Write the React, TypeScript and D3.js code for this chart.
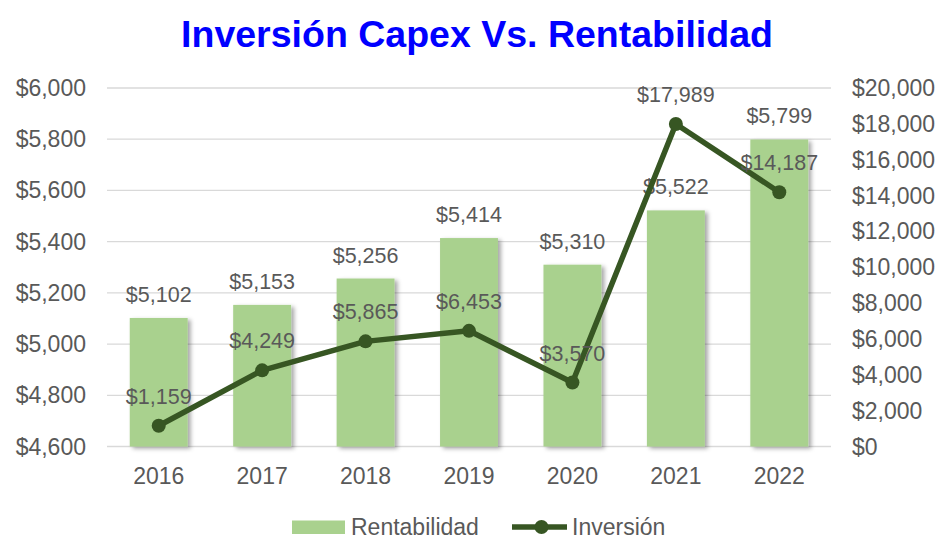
import React from "react";
import * as d3 from "d3";

const years = ["2016", "2017", "2018", "2019", "2020", "2021", "2022"];
const rentabilidad = [5102, 5153, 5256, 5414, 5310, 5522, 5799];
const inversion = [1159, 4249, 5865, 6453, 3570, 17989, 14187];
const leftTicks = [4600, 4800, 5000, 5200, 5400, 5600, 5800, 6000];
const rightTicks = [0, 2000, 4000, 6000, 8000, 10000, 12000, 14000, 16000, 18000, 20000];

const W = 939;
const H = 539;
const left = 107;
const right = 831;
const top = 88;
const bottom = 446.5;
const font = "'Liberation Sans', Arial, sans-serif";
const grey = "#595959";
const barColor = "#A9D18E";
const lineColor = "#375623";
const tickSize = 23;
const labelSize = 21.5;

export default function App() {
  const x = d3.scaleBand<string>().domain(years).range([left, right]).paddingInner(0.44).paddingOuter(0.22);
  const yL = d3.scaleLinear().domain([4600, 6000]).range([bottom, top]);
  const yR = d3.scaleLinear().domain([0, 20000]).range([bottom, top]);
  const fmt = (v: number) => "$" + d3.format(",")(v);
  const cx = (y: string) => (x(y) as number) + x.bandwidth() / 2;
  const line = d3
    .line<number>()
    .x((_, i) => cx(years[i]))
    .y((d) => yR(d));

  return (
    <svg width={W} height={H} style={{ position: "absolute", left: 0, top: 0, background: "#fff" }} fontFamily={font}>
      <defs>
        <filter id="shadow" x="-20%" y="-10%" width="150%" height="130%">
          <feDropShadow dx="3" dy="2" stdDeviation="2.2" floodColor="#000" floodOpacity="0.35" />
        </filter>
      </defs>
      <text x={477} y={47} textAnchor="middle" fontSize={37.5} fontWeight="bold" fill="#0000FF">
        Inversión Capex Vs. Rentabilidad
      </text>
      {leftTicks.map((t) => (
        <g key={"l" + t}>
          <line x1={left} x2={right} y1={yL(t)} y2={yL(t)} stroke="#D9D9D9" strokeWidth={1.3} />
          <text x={86} y={yL(t) + 8} textAnchor="end" fontSize={tickSize} fill={grey}>
            {fmt(t)}
          </text>
        </g>
      ))}
      {rightTicks.map((t) => (
        <text key={"r" + t} x={852} y={yR(t) + 8} textAnchor="start" fontSize={tickSize} fill={grey}>
          {fmt(t)}
        </text>
      ))}
      {years.map((y, i) => (
        <rect
          key={"b" + y}
          x={x(y)}
          y={yL(rentabilidad[i])}
          width={x.bandwidth()}
          height={bottom - yL(rentabilidad[i])}
          fill={barColor}
          filter="url(#shadow)"
        />
      ))}
      {years.map((y, i) => (
        <text key={"bl" + y} x={cx(y)} y={yL(rentabilidad[i]) - 16} textAnchor="middle" fontSize={labelSize} fill={grey}>
          {fmt(rentabilidad[i])}
        </text>
      ))}
      {years.map((y) => (
        <text key={"x" + y} x={cx(y)} y={484} textAnchor="middle" fontSize={tickSize} fill={grey}>
          {y}
        </text>
      ))}
      <path d={line(inversion) || ""} fill="none" stroke={lineColor} strokeWidth={5.5} strokeLinejoin="round" />
      {years.map((y, i) => (
        <circle key={"c" + y} cx={cx(y)} cy={yR(inversion[i])} r={7} fill={lineColor} />
      ))}
      {years.map((y, i) => (
        <text key={"ll" + y} x={cx(y)} y={yR(inversion[i]) - 22} textAnchor="middle" fontSize={labelSize} fill={grey}>
          {fmt(inversion[i])}
        </text>
      ))}
      <rect x={292} y={520.5} width={53} height={13.5} fill={barColor} />
      <text x={351} y={535} fontSize={tickSize} fill={grey}>
        Rentabilidad
      </text>
      <line x1={512} x2={567} y1={527} y2={527} stroke={lineColor} strokeWidth={5.5} />
      <circle cx={541.5} cy={527} r={7} fill={lineColor} />
      <text x={572} y={535} fontSize={tickSize} fill={grey}>
        Inversión
      </text>
    </svg>
  );
}
